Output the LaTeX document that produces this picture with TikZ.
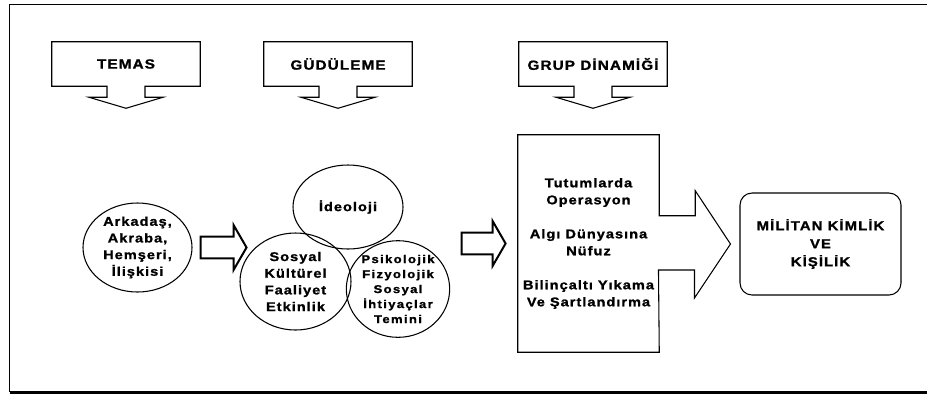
\documentclass[tikz,border=0pt]{standalone}
\usepackage{fontspec}
\setmainfont{Liberation Sans}[FakeStretch=1.15, LetterSpace=8, BoldFeatures={FakeBold=1.2}]
\usetikzlibrary{positioning, calc, shapes.geometric, shapes.arrows}
\tikzset{
    Head/.style = {
        minimum width=111pt, minimum height=33pt, inner sep=0pt,
        font=\bfseries\fontsize{10}{12}\selectfont
    },
    Bubble/.style = {
        draw, ellipse, inner sep=0pt, line width=0.8pt, align=center,
        font=\bfseries\fontsize{9.5}{12.5}\selectfont
    },
    Fat/.style = {
        draw, single arrow, single arrow head extend=8.6pt,
        single arrow tip angle=120, inner xsep=0pt, inner ysep=7.4pt,
        minimum height=#1, line width=1.5pt
    },
    Fat/.default={34pt},
    Outline/.style = {line width=0.8pt, line join=miter}
}

\begin{document}
\begin{tikzpicture}[x=0.75pt, y=-0.75pt]
    \useasboundingbox (0,0) rectangle (927,394);
    % frame
    \draw[line width=1pt] (927,4.5) -- (9.5,4.5) -- (9.5,392);
    \draw[line width=2.25pt] (9.5,392) -- (927,392);

    % headers with down arrows
    \foreach \n/\x/\t in {temas/126/TEMAS, gud/338/GÜDÜLEME, grup/593/GRUP DİNAMİĞİ}{
        \node[Head] (\n) at (\x,64) {\t};
        \draw[Outline] (\n.south west) -- (\n.north west) -- (\n.north east)
            -- (\n.south east) -- ($(\n.south)+(19,0)$) -- ++(0,11) -- ++(18,0)
            -- ($(\n.south)+(0,22)$) -- ++(-37,-11) -- ++(18,0) -- ++(0,-11) -- cycle;
    }

    % bubbles
    \node[Bubble, minimum width=81.75pt, minimum height=66.75pt] (ark) at (137.5,247.5)
        {Arkadaş,\\Akraba,\\Hemşeri,\\İlişkisi};
    \node[Bubble, minimum width=82.5pt, minimum height=63pt] (ideo) at (348,207) {İdeoloji};
    \node[Bubble, minimum width=83.25pt, minimum height=72.75pt] (sos) at (295.5,281.5)
        {Sosyal\\Kültürel\\Faaliyet\\Etkinlik};
    \node[Bubble, minimum width=76.5pt, minimum height=66pt,
          font=\bfseries\fontsize{8.5}{11.25}\selectfont\addfontfeature{LetterSpace=12}]
        (psi) at (398,289) {Psikolojik\\Fizyolojik\\Sosyal\\İhtiyaçlar\\Temini};

    % box and result
    \node[minimum width=105.75pt, minimum height=162.75pt, align=center,
          font=\bfseries\fontsize{9.5}{12.75}\selectfont] (tut) at (588.5,243.5)
        {Tutumlarda\\Operasyon\\[12.75pt]Algı Dünyasına\\Nüfuz\\[12.75pt]Bilinçaltı Yıkama\\Ve Şartlandırma};
    \node[draw, rounded corners=9pt, line width=0.8pt, minimum width=120.75pt,
          minimum height=76.5pt, align=center,
          font=\bfseries\fontsize{9.75}{13.5}\selectfont] (mil) at (820.5,244)
        {MİLİTAN KİMLİK\\VE\\KİŞİLİK};

    % arrows
    \node[Fat=34.5pt, right=5.25pt of ark] (a1) {};
    \node[Fat=33pt, left=8.25pt of tut] (a2) {};
    \draw[Outline] (tut.south west) -- (tut.north west) -- (tut.north east)
        -- ++(0,81) -- ++(36,0) -- ++(0,-25) -- ([xshift=-6.75pt]mil.west)
        -- ++(-36,54) -- ++(0,-28) -- ++(-36,0) -- (tut.south east) -- cycle;
\end{tikzpicture}
\end{document}
